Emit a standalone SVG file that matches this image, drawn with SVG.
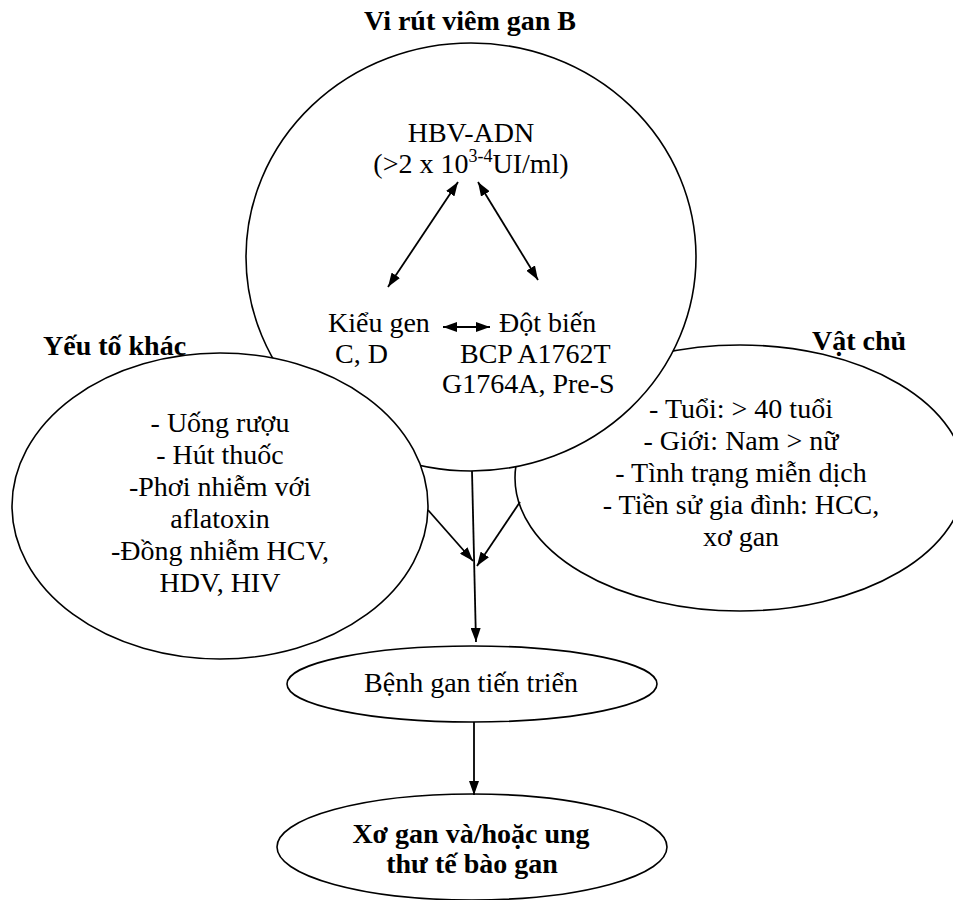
<svg xmlns="http://www.w3.org/2000/svg" width="953" height="900" viewBox="0 0 953 900">
<style>
.shape{fill:#fff;stroke:#000;stroke-width:1.6}
.t{font-family:"Liberation Serif","Times New Roman",serif;font-size:28px;fill:#000}
.c{text-anchor:middle}
.b{font-weight:bold}
.ln{stroke:#000;stroke-width:1.8;fill:none}
</style>
<defs>
<marker id="ah" viewBox="0 0 14 10" refX="14" refY="5" markerWidth="14" markerHeight="10" markerUnits="userSpaceOnUse" orient="auto-start-reverse">
<path d="M0,0 L14,5 L0,10 z" fill="#000"/>
</marker>
</defs>
<rect width="953" height="900" fill="#fff"/>

<g id="vat-chu">
<ellipse class="shape" cx="740" cy="478" rx="225" ry="133"/>
<text class="t b" x="812" y="350">Vật chủ</text>
<text class="t c" x="741" y="418">- Tuổi: &gt; 40 tuổi</text>
<text class="t c" x="741" y="450">- Giới: Nam &gt; nữ</text>
<text class="t c" x="741" y="482">- Tình trạng miễn dịch</text>
<text class="t c" x="741" y="514">- Tiền sử gia đình: HCC,</text>
<text class="t c" x="741" y="546">xơ gan</text>
</g>

<g id="virut">
<text class="t b c" x="470" y="30">Vi rút viêm gan B</text>
<ellipse class="shape" cx="471" cy="257" rx="225" ry="214"/>
<text class="t c" x="471" y="142">HBV-ADN</text>
<text class="t c" x="471" y="173">(&gt;2 x 10<tspan font-size="18" dy="-11">3-4</tspan><tspan dy="11">UI/ml)</tspan></text>
<text class="t" x="328" y="332">Kiểu gen</text>
<text class="t" x="335" y="363">C, D</text>
<text class="t" x="499" y="332">Đột biến</text>
<text class="t" x="460" y="363">BCP A1762T</text>
<text class="t" x="442" y="393">G1764A, Pre-S</text>
</g>

<g id="yeu-to-khac">
<text class="t b" x="43" y="355">Yếu tố khác</text>
<ellipse class="shape" cx="220" cy="506" rx="208" ry="153"/>
<text class="t c" x="220" y="432">- Uống rượu</text>
<text class="t c" x="220" y="464">- Hút thuốc</text>
<text class="t c" x="220" y="496">-Phơi nhiễm với</text>
<text class="t c" x="220" y="528">aflatoxin</text>
<text class="t c" x="220" y="560">-Đồng nhiễm HCV,</text>
<text class="t c" x="220" y="592">HDV, HIV</text>
</g>

<g id="benh-gan">
<ellipse class="shape" cx="472" cy="684" rx="185" ry="38"/>
<text class="t c" x="471" y="692">Bệnh gan tiến triển</text>
</g>

<g id="xo-gan">
<ellipse class="shape" cx="472" cy="847" rx="195" ry="53"/>
<text class="t b c" x="471" y="843">Xơ gan và/hoặc ung</text>
<text class="t b c" x="472" y="873">thư tế bào gan</text>
</g>

<g id="connectors">
<line class="ln" x1="458" y1="182" x2="388" y2="287" marker-start="url(#ah)" marker-end="url(#ah)"/>
<line class="ln" x1="478" y1="182" x2="538" y2="280" marker-start="url(#ah)" marker-end="url(#ah)"/>
<line class="ln" x1="443" y1="327" x2="490" y2="327" marker-start="url(#ah)" marker-end="url(#ah)"/>
<line class="ln" x1="428" y1="510" x2="473" y2="561" marker-end="url(#ah)"/>
<line class="ln" x1="520" y1="502" x2="477" y2="566" marker-end="url(#ah)"/>
<line class="ln" x1="472" y1="471" x2="476" y2="642" marker-end="url(#ah)"/>
<line class="ln" x1="474" y1="722" x2="474" y2="795" marker-end="url(#ah)"/>
</g>
</svg>
